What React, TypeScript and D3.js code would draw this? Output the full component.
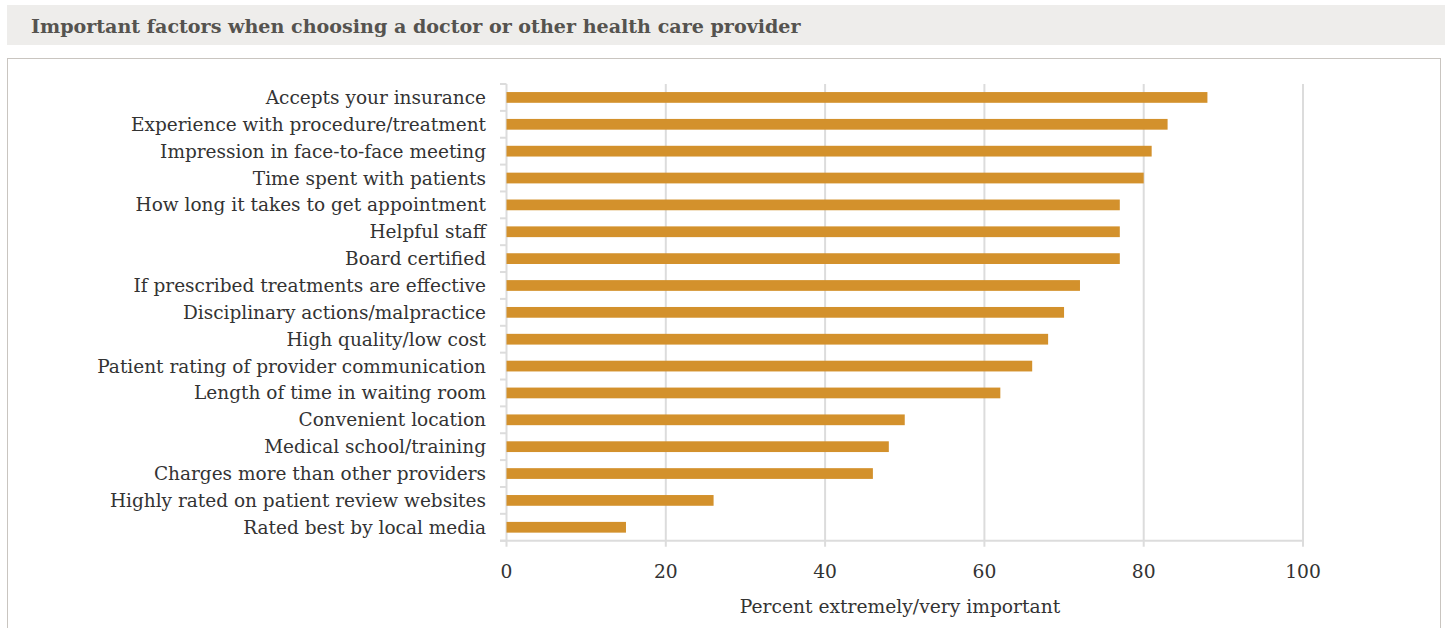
import React from "react";
import * as d3 from "d3";

const categories = [
  "Accepts your insurance",
  "Experience with procedure/treatment",
  "Impression in face-to-face meeting",
  "Time spent with patients",
  "How long it takes to get appointment",
  "Helpful staff",
  "Board certified",
  "If prescribed treatments are effective",
  "Disciplinary actions/malpractice",
  "High quality/low cost",
  "Patient rating of provider communication",
  "Length of time in waiting room",
  "Convenient location",
  "Medical school/training",
  "Charges more than other providers",
  "Highly rated on patient review websites",
  "Rated best by local media",
];
const values = [88, 83, 81, 80, 77, 77, 77, 72, 70, 68, 66, 62, 50, 48, 46, 26, 15];
const xTicks = [0, 20, 40, 60, 80, 100];
const title = "Important factors when choosing a doctor or other health care provider";
const xTitle = "Percent extremely/very important";

const FONT = "'DejaVu Serif', serif";

export default function App() {
  const W = 1445, H = 628;
  const x = d3.scaleLinear().domain([0, 100]).range([506.5, 1303]);
  const y = d3.scaleBand<string>().domain(categories).range([84, 540.7]).paddingInner(0.6).paddingOuter(0.3);
  const bandTop = 84;
  const axisY = 540.7;
  const boundaries = d3.range(categories.length + 1).map((i) => bandTop + (i * (axisY - bandTop)) / categories.length);
  return (
    <svg width={W} height={H} style={{ position: "absolute", left: 0, top: 0, display: "block" }}>
      <rect x={0} y={0} width={W} height={H} fill="#fff" />
      <rect x={7} y={5} width={W - 7} height={40} fill="#eeedeb" />
      <text x={31} y={33} fontFamily={FONT} fontWeight="bold" fontSize={19.1} fill="#55534f">
        {title}
      </text>
      <rect x={7.5} y={58.5} width={1433} height={600} fill="#fff" stroke="#c9c5c0" strokeWidth={1} />
      {xTicks.map((t) => (
        <g key={t}>
          <line x1={x(t)} x2={x(t)} y1={bandTop} y2={axisY + 6} stroke="#dcdcdc" strokeWidth={2} />
          <text x={x(t)} y={578} textAnchor="middle" fontFamily={FONT} fontSize={18.7} fill="#333">
            {t}
          </text>
        </g>
      ))}
      <line x1={500} x2={x(100)} y1={axisY} y2={axisY} stroke="#dcdcdc" strokeWidth={2} />
      {boundaries.map((b, i) => (
        <line key={i} x1={500} x2={x(0)} y1={b} y2={b} stroke="#dcdcdc" strokeWidth={2} />
      ))}
      {categories.map((c, i) => (
        <g key={c}>
          <rect x={x(0)} y={y(c)!} width={x(values[i]) - x(0)} height={y.bandwidth()} fill="#d3912c" />
          <text
            x={486}
            y={y(c)! + y.bandwidth() / 2}
            dy="0.35em"
            textAnchor="end"
            fontFamily={FONT}
            fontSize={18.5}
            fill="#333"
          >
            {c}
          </text>
        </g>
      ))}
      <text x={900} y={613} textAnchor="middle" fontFamily={FONT} fontSize={18.7} fill="#333">
        {xTitle}
      </text>
    </svg>
  );
}
